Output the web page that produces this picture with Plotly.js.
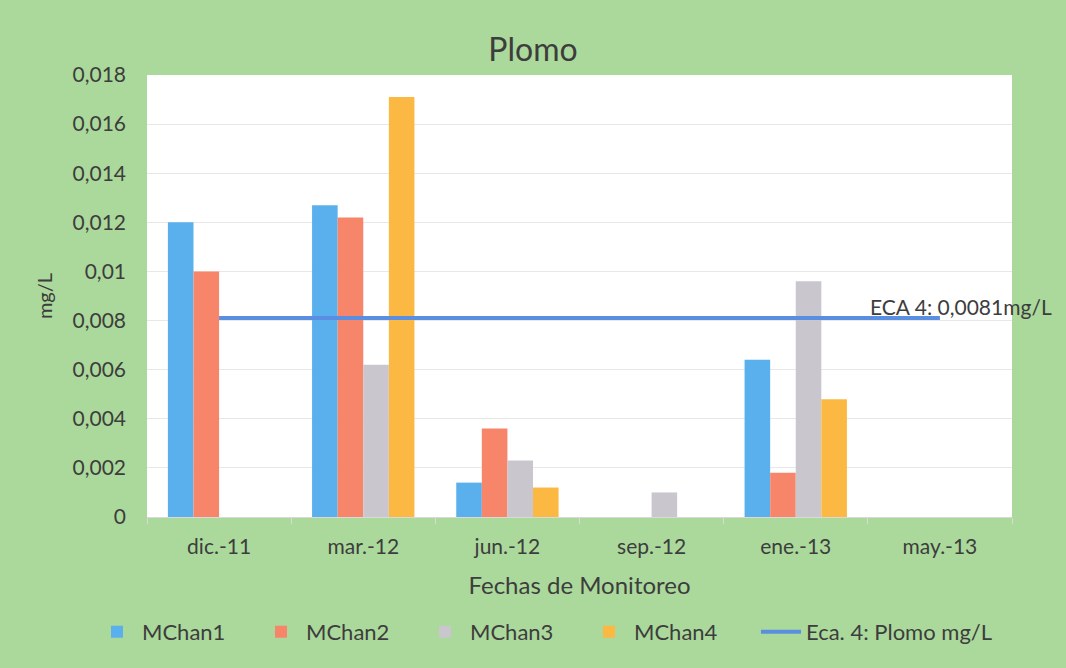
<!DOCTYPE html>
<html><head><meta charset="utf-8">
<script src="https://cdn.plot.ly/plotly-3.0.1.min.js"></script>
<style>html,body{margin:0;padding:0;background:#fff;}#c{position:absolute;left:0;top:0;width:1066px;height:668px;}</style>
</head><body><div id="c"></div>
<script>
const categories = ["dic.-11","mar.-12","jun.-12","sep.-12","ene.-13","may.-13"];
const mchan1 = [0.012, 0.0127, 0.0014, 0, 0.0064, 0];
const mchan2 = [0.010, 0.0122, 0.0036, 0, 0.0018, 0];
const mchan3 = [0, 0.0062, 0.0023, 0.001, 0.0096, 0];
const mchan4 = [0, 0.0171, 0.0012, 0, 0.0048, 0];
const ecaValue = 0.0081;
const ecaLine = categories.map(() => ecaValue);
const yTicks = [0,0.002,0.004,0.006,0.008,0.01,0.012,0.014,0.016,0.018];
const yTickText = ["0","0,002","0,004","0,006","0,008","0,01","0,012","0,014","0,016","0,018"];

const txt = "#3d3d3d";
const font = "Lato, 'Open Sans', sans-serif";
function bar(name, y, color){
  return {type:"bar", name:name, x:categories, y:y, marker:{color:color}, hoverinfo:"y", legend:"legend"};
}
const data = [
  bar("MChan1", mchan1, "#5ab0ec"),
  bar("MChan2", mchan2, "#f7856a"),
  bar("MChan3", mchan3, "#c9c7cd"),
  bar("MChan4", mchan4, "#fbb943"),
  {type:"scatter", mode:"lines", name:"Eca. 4: Plomo mg/L", x:categories, y:ecaLine,
   line:{color:"#5a8ee0", width:4}, legend:"legend2"}
];
const legendFont = {size:22, color:txt};
const layout = {
  width:1066, height:668,
  paper_bgcolor:"#abd99b", plot_bgcolor:"#ffffff",
  margin:{l:147, r:54, t:75, b:151},
  font:{family:font, color:txt, size:20},
  title:{text:"Plomo", font:{size:32, color:txt, family:font}, x:0.5, xref:"container", y:0.925, yref:"container", yanchor:"middle"},
  barmode:"group", bargap:0.29, bargroupgap:0,
  showlegend:true,
  legend:{orientation:"h", x:-0.0636, xref:"paper", xanchor:"left", y:-0.26, yref:"paper", yanchor:"middle",
          font:legendFont, bgcolor:"rgba(0,0,0,0)", traceorder:"normal", itemwidth:40,
          entrywidth:109, entrywidthmode:"pixels"},
  legend2:{orientation:"h", x:0.704, xref:"paper", xanchor:"left", y:-0.26, yref:"paper", yanchor:"middle",
          font:legendFont, bgcolor:"rgba(0,0,0,0)", itemwidth:40},
  xaxis:{type:"category", tickson:"boundaries", ticks:"outside", ticklen:6, tickcolor:"#d9d9d9",
         showline:true, linecolor:"#d9d9d9", linewidth:1, showgrid:false,
         tickfont:{size:21, color:txt}, ticklabelstandoff:11,
         title:{text:"Fechas de Monitoreo", font:{size:24, color:txt}, standoff:19}},
  yaxis:{range:[0,0.018], tickvals:yTicks, ticktext:yTickText, showgrid:true, gridcolor:"#e8e8e8", gridwidth:1,
         zeroline:false, showline:false, ticks:"", tickfont:{size:21, color:txt}, ticklabelstandoff:20,
         title:{text:"mg/L", font:{size:20, color:txt}, standoff:14}},
  annotations:[{xref:"paper", yref:"y", x:0.834, y:ecaValue, xanchor:"left", yanchor:"middle", yshift:12,
     text:"ECA 4: " + String(ecaValue).replace(".", ",") + "mg/L", showarrow:false,
     font:{size:21, color:txt}}]
};
Plotly.newPlot("c", data, layout, {displayModeBar:false, staticPlot:true});
</script></body></html>
